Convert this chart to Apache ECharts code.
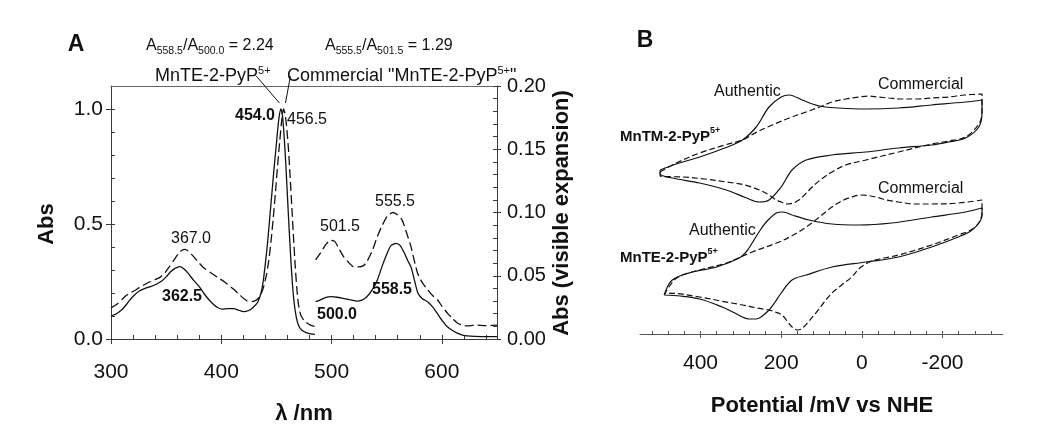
<!DOCTYPE html>
<html><head><meta charset="utf-8">
<script src="https://cdn.jsdelivr.net/npm/echarts@6/dist/echarts.min.js"></script>
<style>html,body{margin:0;padding:0;background:#fff}#c{width:1050px;height:435px}</style>
</head><body><div id="c"></div>
<script>
// ---------- Panel A data (wavelength nm, absorbance) ----------
const authenticSoret = [[300,0.100],[305,0.110],[310,0.128],[314,0.150],[318,0.175],[322,0.195],[326,0.210],[331,0.220],[336,0.228],[341,0.238],[346,0.252],[350,0.270],[354,0.292],[358,0.307],[362.5,0.315],[366,0.305],[370,0.285],[375,0.255],[380,0.228],[384,0.200],[388,0.175],[393,0.150],[397,0.136],[401,0.130],[406,0.132],[411,0.132],[416,0.125],[420,0.119],[425,0.124],[429,0.138],[433,0.160],[436,0.200],[438,0.250],[440,0.330],[442,0.420],[444,0.530],[446,0.640],[448,0.750],[450,0.850],[452,0.950],[454,1.000],[455.5,0.970],[457,0.880],[458.5,0.760],[460,0.620],[461.5,0.480],[463,0.350],[464.5,0.240],[466,0.160],[468,0.095],[470,0.060],[473,0.038],[477,0.028],[481,0.022],[485,0.020]];
const commercialSoret = [[300,0.136],[305,0.150],[310,0.172],[314,0.190],[318,0.202],[322,0.212],[326,0.225],[331,0.238],[336,0.250],[341,0.260],[345,0.270],[349,0.288],[353,0.315],[357,0.343],[361,0.370],[364,0.385],[367,0.390],[370,0.383],[373,0.368],[376,0.352],[380,0.330],[384,0.310],[390,0.290],[396,0.270],[403,0.248],[411,0.217],[417,0.190],[423,0.167],[428,0.163],[432,0.170],[435,0.185],[438,0.220],[441,0.280],[443,0.340],[445,0.420],[447,0.520],[449,0.630],[451,0.750],[453,0.860],[455,0.960],[456.5,1.000],[458,0.975],[459.5,0.910],[461,0.820],[462.5,0.700],[464,0.570],[465.5,0.440],[467,0.320],[468.5,0.220],[470,0.150],[472,0.105],[475,0.080],[479,0.065],[482,0.058],[485,0.055]];
const authenticVisible = [[485.5,0.0295],[490,0.031],[495,0.033],[500,0.0335],[505,0.033],[511,0.032],[517,0.031],[523,0.030],[528,0.031],[532,0.0334],[537,0.039],[541.5,0.0466],[546,0.058],[550.5,0.068],[554,0.074],[558.5,0.0756],[562,0.074],[566,0.068],[569,0.062],[572,0.057],[575,0.047],[578,0.037],[582,0.032],[587,0.0295],[592,0.025],[596,0.020],[600,0.015],[605,0.0097],[610,0.0065],[614,0.0047],[618,0.0033],[623,0.0024],[630,0.002],[640,0.0018],[650,0.0018]];
const commercialVisible = [[485.5,0.0625],[490,0.068],[495,0.075],[499,0.078],[503,0.077],[507,0.071],[511,0.065],[516,0.060],[520,0.057],[525,0.057],[529,0.058],[532,0.061],[537,0.070],[541.5,0.081],[546,0.090],[550.5,0.097],[555.5,0.100],[560,0.098],[564,0.094],[568,0.084],[572,0.073],[575,0.062],[578,0.052],[582,0.045],[587,0.039],[592,0.034],[596,0.031],[600,0.026],[605,0.0205],[610,0.016],[614,0.0126],[618,0.011],[623,0.0103],[630,0.011],[640,0.0105],[650,0.011]];
const mnteLeader = [[431.8,1.143],[452.7,1.026]];
const commercialLeader = [[462.7,1.143],[458.2,1.026]];
const uvXMajor = [300,400,500,600];
const uvXMinor = [300,320,340,360,380,400,420,440,460,480,500,520,540,560,580,600,620,640];
const absMajor = [0,0.5,1.0];
const absMinor = [0,0.1,0.2,0.3,0.4,0.5,0.6,0.7,0.8,0.9,1.0];
const visMajor = [0,0.05,0.10,0.15,0.20];
const visMinor = [0,0.01,0.02,0.03,0.04,0.05,0.06,0.07,0.08,0.09,0.10,0.11,0.12,0.13,0.14,0.15,0.16,0.17,0.18,0.19,0.20];

// ---------- Panel B data (potential mV vs NHE, current arb. units) ----------
const mntmAuthentic = [[500,16.4],[460,17.0],[402,17.7],[340,18.6],[296,19.4],[262,20.7],[230,22.7],[200,23.7],[180,23.9],[148,23.4],[106,22.8],[57,22.6],[-10,22.5],[-91,22.6],[-173,22.9],[-257,23.2],[-298,23.4],[-298,22.2],[-290,20.7],[-257,19.6],[-215,19.2],[-173,18.9],[-91,18.6],[-10,18.2],[74,17.9],[138,17.4],[173,16.4],[200,14.7],[230,13.4],[254,13.2],[286,13.6],[336,14.4],[402,15.1],[470,15.6],[500,16.0],[500,16.4]];
const mntmCommercial = [[500,16.2],[460,17.1],[402,18.1],[340,18.9],[296,19.4],[260,20.2],[222,20.9],[180,21.6],[138,22.2],[105,22.7],[74,23.2],[40,23.5],[7,23.7],[-17,23.8],[-40,23.7],[-67,23.6],[-100,23.5],[-133,23.5],[-175,23.6],[-215,23.7],[-255,23.9],[-298,24.0],[-298,22.2],[-290,21.0],[-257,19.7],[-215,19.3],[-173,19.0],[-91,18.2],[-10,17.4],[40,16.9],[74,16.2],[100,15.5],[123,14.7],[140,14.0],[156,13.4],[170,13.1],[185,13.0],[200,13.2],[212,13.4],[230,13.9],[254,14.4],[290,14.9],[336,15.2],[390,15.5],[444,15.7],[500,15.8],[500,16.2]];
const mnteAuthentic = [[490,3.9],[470,5.4],[420,6.2],[360,6.7],[304,7.6],[285,8.3],[272,9.1],[255,10.2],[237,11.2],[212,12.1],[198,12.2],[185,12.1],[173,11.9],[131,11.4],[74,11.0],[7,10.9],[-74,11.1],[-173,11.7],[-257,12.2],[-298,12.6],[-298,11.9],[-290,11.1],[-270,10.3],[-239,9.7],[-173,8.7],[-91,7.7],[-10,7.2],[74,6.7],[138,5.9],[173,5.4],[200,4.1],[215,3.2],[230,2.4],[250,1.7],[262,1.5],[280,1.5],[296,1.7],[320,2.2],[346,2.7],[402,3.5],[450,3.8],[490,3.9]];
const mnteCommercial = [[490,3.9],[459,5.6],[402,6.4],[336,7.1],[272,8.2],[205,9.2],[170,9.9],[138,10.7],[105,11.7],[74,12.7],[50,13.3],[25,13.7],[0,13.9],[-35,13.7],[-60,13.4],[-91,13.2],[-130,13.0],[-173,13.0],[-240,13.1],[-298,13.4],[-298,12.2],[-290,11.1],[-270,10.4],[-239,9.9],[-173,8.9],[-91,7.9],[-25,7.3],[5,6.6],[25,5.7],[50,4.9],[74,4.1],[95,3.1],[114,2.1],[135,1.1],[150,0.5],[160,0.4],[173,0.7],[185,1.3],[198,1.9],[215,2.2],[230,2.4],[260,2.6],[296,2.9],[350,3.3],[402,3.7],[484,4.1],[490,3.9]];
const cvMajor = [400,200,0,-200];
const cvMinor = [520,480,440,400,360,320,280,240,200,160,120,80,40,0,-40,-80,-120,-160,-200,-240,-280,-320];

// ---------- styling ----------
const FONT = '"Liberation Sans", Arial, Helvetica, sans-serif';
const AX = '#3a3a3a';
const AXB = '#555';
const INK = '#111';

function lineAxis(color){ return {show:true, onZero:false, lineStyle:{color:color, width:1}}; }
function noAxis(){ return {show:false, onZero:false}; }

const xAxes = [
  {gridIndex:0, type:'value', min:300, max:650, position:'bottom', axisLine:lineAxis(AX),
   axisTick:{show:true, inside:false, length:5, customValues:uvXMajor, lineStyle:{color:AX}},
   axisLabel:{show:true, customValues:uvXMajor, fontSize:21, margin:23, color:INK, fontFamily:FONT},
   splitLine:{show:false}},
  {gridIndex:0, type:'value', min:300, max:650, position:'bottom', axisLine:noAxis(),
   axisTick:{show:true, inside:true, length:4, customValues:uvXMinor, lineStyle:{color:AX}},
   axisLabel:{show:false}, splitLine:{show:false}},
  {gridIndex:0, type:'value', min:300, max:650, position:'top', axisLine:lineAxis('#666'),
   axisTick:{show:false}, axisLabel:{show:false}, splitLine:{show:false}},
  {gridIndex:1, type:'value', min:-350, max:550, inverse:true, position:'bottom', axisLine:lineAxis(AXB),
   axisTick:{show:true, inside:false, length:4, customValues:cvMajor, lineStyle:{color:AXB}},
   axisLabel:{show:true, customValues:cvMajor, fontSize:21, margin:19, color:INK, fontFamily:FONT, formatter:v=>String(v)},
   splitLine:{show:false}},
  {gridIndex:1, type:'value', min:-350, max:550, inverse:true, position:'bottom', axisLine:noAxis(),
   axisTick:{show:true, inside:true, length:3, customValues:cvMinor, lineStyle:{color:AXB}},
   axisLabel:{show:false}, splitLine:{show:false}}
];
const yAxes = [
  {gridIndex:0, type:'value', min:0, max:1.1, position:'left', axisLine:lineAxis(AX),
   axisTick:{show:true, inside:false, length:5, customValues:absMajor, lineStyle:{color:AX}},
   axisLabel:{show:true, customValues:absMajor, fontSize:21, margin:8, color:INK, fontFamily:FONT, formatter:v=>v.toFixed(1)},
   splitLine:{show:false}},
  {gridIndex:0, type:'value', min:0, max:1.1, position:'left', axisLine:noAxis(),
   axisTick:{show:true, inside:true, length:4, customValues:absMinor, lineStyle:{color:AX}},
   axisLabel:{show:false}, splitLine:{show:false}},
  {gridIndex:0, type:'value', min:0, max:0.2, position:'right', axisLine:lineAxis(AX),
   axisTick:{show:true, inside:false, length:4, customValues:visMajor, lineStyle:{color:AX}},
   axisLabel:{show:true, customValues:visMajor, fontSize:20, margin:10, color:INK, fontFamily:FONT, formatter:v=>v.toFixed(2)},
   splitLine:{show:false}},
  {gridIndex:0, type:'value', min:0, max:0.2, position:'right', axisLine:noAxis(),
   axisTick:{show:true, inside:true, length:4, customValues:visMinor, lineStyle:{color:AX}},
   axisLabel:{show:false}, splitLine:{show:false}},
  {gridIndex:1, type:'value', min:0, max:27.4, show:false, axisLine:noAxis(), splitLine:{show:false}}
];

function curve(data, xi, yi, dashed, w, dash, smooth){
  return {type:'line', data:data, xAxisIndex:xi, yAxisIndex:yi, showSymbol:false, symbol:'none',
    smooth:smooth, silent:true, animation:false,
    lineStyle:{color:INK, width:w, type: dashed ? dash : 'solid'}};
}
const series = [
  curve(authenticSoret, 0, 0, false, 1.3, null, 0.2),
  curve(commercialSoret, 0, 0, true, 1.3, [9,4], 0.2),
  curve(authenticVisible, 0, 2, false, 1.3, null, 0.2),
  curve(commercialVisible, 0, 2, true, 1.3, [9,4], 0.2),
  Object.assign(curve(mnteLeader, 0, 0, false, 1, null, false), {clip:false}),
  Object.assign(curve(commercialLeader, 0, 0, false, 1, null, false), {clip:false}),
  curve(mntmAuthentic, 3, 4, false, 1.2, null, 0.35),
  curve(mntmCommercial, 3, 4, true, 1.2, [6,3], 0.35),
  curve(mnteAuthentic, 3, 4, false, 1.2, null, 0.35),
  curve(mnteCommercial, 3, 4, true, 1.2, [6,3], 0.35)
];

function T(x, y, text, size, bold, align, extra){
  return Object.assign({type:'text', x:x, y:y, silent:true, z:10,
    style:{text:text, fill:INK, fontFamily:FONT, fontSize:size, fontWeight:bold?'bold':'normal',
      textAlign:align||'center', textVerticalAlign:'middle'}}, extra||{});
}
function R(x, y, text, size, bold, rich){
  return {type:'text', x:x, y:y, silent:true, z:10,
    style:{text:text, fill:INK, fontFamily:FONT, fontSize:size, fontWeight:bold?'bold':'normal',
      textAlign:'left', textVerticalAlign:'middle', rich:rich}};
}
const subRich = {
  m:{fontSize:16, lineHeight:22, fontFamily:FONT, fill:INK, verticalAlign:'middle'},
  s:{fontSize:10.5, lineHeight:10, fontFamily:FONT, fill:INK, verticalAlign:'bottom'}
};
function supRich(size, bold){
  return {
    m:{fontSize:size, lineHeight:22, fontFamily:FONT, fill:INK, fontWeight:bold?'bold':'normal', verticalAlign:'middle'},
    p:{fontSize:Math.round(size*0.62), lineHeight:11, fontFamily:FONT, fill:INK, fontWeight:bold?'bold':'normal', verticalAlign:'top'}
  };
}

const graphic = [
  T(76, 45, 'A', 23, true),
  T(645, 41, 'B', 23, true),
  R(146, 46, '{m|A}{s|558.5}{m|/A}{s|500.0}{m| = 2.24}', 16, false, subRich),
  R(325, 46, '{m|A}{s|555.5}{m|/A}{s|501.5}{m| = 1.29}', 16, false, subRich),
  R(155, 76, '{m|MnTE-2-PyP}{p|5+}', 18, false, supRich(18,false)),
  R(287, 76, '{m|Commercial "MnTE-2-PyP}{p|5+}{m|"}', 18, false, supRich(18,false)),
  T(255, 116, '454.0', 16, true),
  T(307, 120, '456.5', 16, false),
  T(191, 239, '367.0', 16, false),
  T(182, 297, '362.5', 16, true),
  T(340, 227, '501.5', 16, false),
  T(395, 202, '555.5', 16, false),
  T(392, 290, '558.5', 16, true),
  T(337, 315, '500.0', 16, true),
  T(47, 224, 'Abs', 22, true, 'center', {rotation:Math.PI/2}),
  T(562, 213, 'Abs (visible expansion)', 22, true, 'center', {rotation:Math.PI/2}),
  T(304, 414, 'λ /nm', 22, true),
  T(822, 406, 'Potential /mV vs NHE', 22, true),
  T(714, 92, 'Authentic', 16, false, 'left'),
  T(878, 85, 'Commercial', 16, false, 'left'),
  R(620, 137, '{m|MnTM-2-PyP}{p|5+}', 15, true, supRich(15,true)),
  T(878, 189, 'Commercial', 16, false, 'left'),
  T(689, 231, 'Authentic', 16, false, 'left'),
  R(620, 258, '{m|MnTE-2-PyP}{p|5+}', 15, true, supRich(15,true))
];

const option = {
  backgroundColor:'#ffffff',
  animation:false,
  grid:[
    {left:111, top:86, width:386, height:253, containLabel:false},
    {left:640, top:60, width:363, height:274, containLabel:false}
  ],
  xAxis:xAxes,
  yAxis:yAxes,
  series:series,
  graphic:graphic
};
const chart = echarts.init(document.getElementById('c'), null, {renderer:'canvas'});
chart.setOption(option);
</script></body></html>
